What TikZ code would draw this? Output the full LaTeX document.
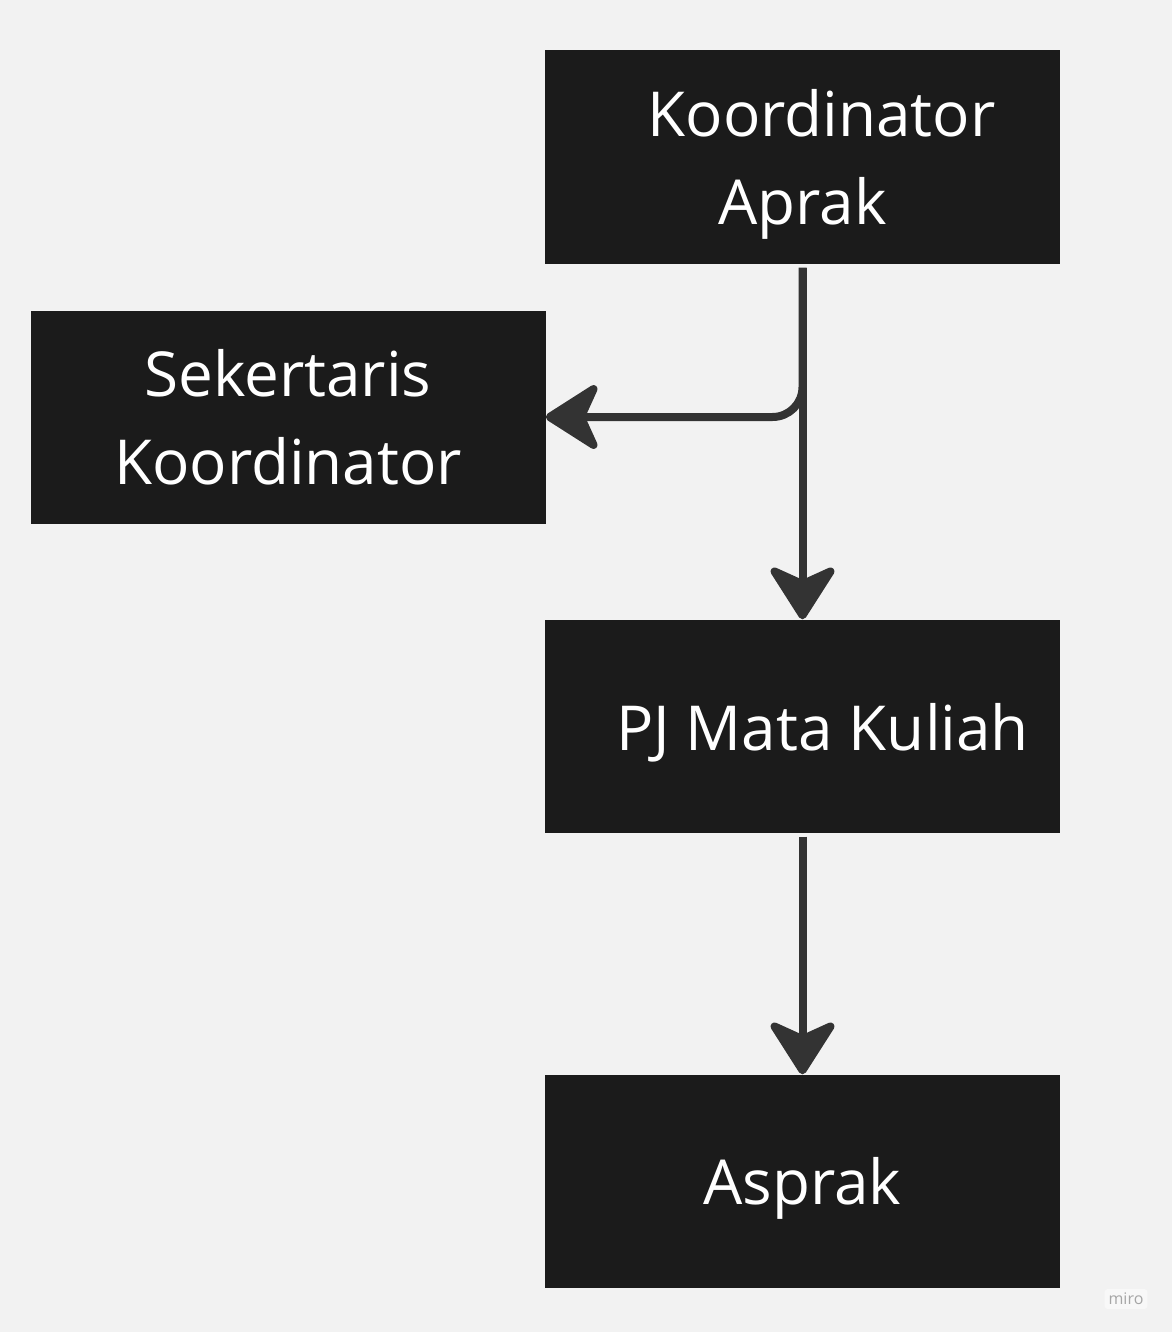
\documentclass[tikz,border=0pt]{standalone}
\usepackage{fontspec}
\setmainfont{Open Sans}
\usetikzlibrary{arrows.meta}
\definecolor{bg}{HTML}{F2F2F2}
\definecolor{boxfill}{HTML}{1B1B1B}
\definecolor{arrowc}{HTML}{333333}
\newcommand{\topstrut}{\rule{0pt}{61pt}}
\tikzset{
  orgbox/.style={fill=boxfill, draw=none, minimum width=515pt, minimum height=213pt, inner sep=0pt, text=white, align=center, font=\fontsize{62pt}{88pt}\selectfont},
  conn/.style={draw=arrowc, line width=8pt, line join=round, shorten <=4pt,
    -{Stealth[length=60pt, width=76pt, inset=17pt, round]}},
}
\begin{document}
\begin{tikzpicture}[x=1pt, y=-1pt]
\fill[bg] (0,0) rectangle (1172,1332);
\useasboundingbox (0,0) rectangle (1172,1332);
\node[orgbox] (ka) at (802.5,157) {\topstrut\hspace*{38pt}Koordinator\\Aprak};
\node[orgbox] (sk) at (288,417) {Sekertaris\\Koordinator};
\node[orgbox] (pj) at (802.5,726) {\topstrut\hspace*{40pt}PJ Mata Kuliah};
\node[orgbox] (as) at (802.5,1181) {\topstrut Asprak};
\node[text=black!35, font=\fontsize{16pt}{18pt}\selectfont, fill=white!50!bg, rounded corners=3pt, inner sep=4pt] (miro) at (1126,1299) {miro};
\draw[conn] (ka.south) -- (pj.north);
\draw[conn, rounded corners=30pt] (ka.south) |- (sk.east);
\draw[conn] (pj.south) -- (as.north);
\end{tikzpicture}
\end{document}
